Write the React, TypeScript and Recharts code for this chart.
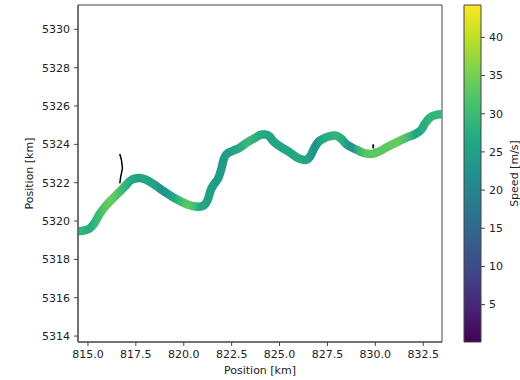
import React from 'react';
import { ComposedChart, Line, XAxis, YAxis, ReferenceArea } from 'recharts';

// Track positions [km] and speed [m/s] along the track
const trackX = [814.25, 814.77, 815.09, 815.35, 815.61, 815.88, 816.14, 816.40, 816.66, 816.92, 817.19, 817.45, 817.71, 817.97, 818.24, 818.55, 818.86, 819.18, 819.54, 819.91, 820.23, 820.54, 820.80, 821.07, 821.25, 821.41, 821.59, 821.80, 821.96, 822.09, 822.25, 822.48, 822.85, 823.38, 823.74, 824.06, 824.27, 824.48, 824.69, 824.95, 825.48, 826.00, 826.32, 826.58, 826.79, 827.00, 827.26, 827.58, 827.89, 828.21, 828.47, 828.79, 829.10, 829.47, 829.78, 830.15, 830.62, 831.14, 831.66, 832.08, 832.40, 832.61, 832.82, 833.13, 833.45, 833.82];
const trackY = [5319.45, 5319.50, 5319.61, 5319.90, 5320.37, 5320.73, 5321.02, 5321.28, 5321.54, 5321.80, 5322.09, 5322.22, 5322.25, 5322.18, 5322.04, 5321.84, 5321.62, 5321.41, 5321.18, 5320.99, 5320.85, 5320.77, 5320.74, 5320.83, 5321.10, 5321.62, 5321.93, 5322.24, 5322.71, 5323.23, 5323.50, 5323.63, 5323.79, 5324.14, 5324.34, 5324.51, 5324.52, 5324.41, 5324.15, 5323.94, 5323.62, 5323.27, 5323.18, 5323.34, 5323.76, 5324.10, 5324.28, 5324.42, 5324.46, 5324.30, 5324.02, 5323.83, 5323.68, 5323.53, 5323.50, 5323.61, 5323.86, 5324.12, 5324.36, 5324.54, 5324.77, 5325.11, 5325.37, 5325.53, 5325.57, 5325.58];
const trackSpeed = [31, 28, 27, 29, 31, 33, 34, 33, 31, 29, 27, 26, 25, 26, 26, 25, 22, 24, 27, 31, 33, 31, 27, 26, 25, 25, 24, 24, 24, 24, 25, 25, 27, 30, 28, 27, 26, 26, 26, 26, 26, 27, 26, 25, 22, 24, 27, 28, 29, 28, 25, 22, 29, 33, 33, 33, 33, 34, 31, 25, 27, 28, 29, 29, 29, 29];

// Thin black marks
const markAX = [816.66, 816.75, 816.80, 816.71, 816.66];
const markAY = [5323.50, 5323.18, 5322.75, 5322.31, 5321.97];
const markBX = [829.89, 829.89];
const markBY = [5324.00, 5323.79];

// Axes
const xTicks = [815.0, 817.5, 820.0, 822.5, 825.0, 827.5, 830.0, 832.5];
const yTicks = [5314, 5316, 5318, 5320, 5322, 5324, 5326, 5328, 5330];
const xDomain = [814.48, 833.48];
const yDomain = [5313.69, 5331.27];

// Colorbar
const speedMin = 0.1;
const speedMax = 44.24;
const cbTicks = [5, 10, 15, 20, 25, 30, 35, 40];

const VIRIDIS = ['#440154', '#482475', '#414487', '#355f8d', '#2a788e', '#21918c', '#22a884', '#44bf70', '#7ad151', '#bddf26', '#fde725'];

function hexToRgb(h: string) {
  return [parseInt(h.slice(1, 3), 16), parseInt(h.slice(3, 5), 16), parseInt(h.slice(5, 7), 16)];
}
function viridis(t: number) {
  const c = Math.max(0, Math.min(1, t));
  const s = c * (VIRIDIS.length - 1);
  const i = Math.min(VIRIDIS.length - 2, Math.floor(s));
  const f = s - i;
  const a = hexToRgb(VIRIDIS[i]);
  const b = hexToRgb(VIRIDIS[i + 1]);
  const r = a.map((v, k) => Math.round(v + (b[k] - v) * f));
  return `rgb(${r[0]},${r[1]},${r[2]})`;
}

const trackData = trackX.map((x, i) => ({ x, y: trackY[i] }));
const markAData = markAX.map((x, i) => ({ x, y: markAY[i] }));
const markBData = markBX.map((x, i) => ({ x, y: markBY[i] }));
const cbData = [{ x: 0 }, { x: 1 }];

const xMin = Math.min(...trackX);
const xMax = Math.max(...trackX);

const FONT = 'DejaVu Sans';
const TXT = '#222';
const AX = '#444';
const tickStyle = { fontSize: 11, fill: TXT, fontFamily: FONT };

export default function App() {
  return (
    <div style={{ position: 'absolute', left: 0, top: 0, width: 520, height: 380, background: '#fff' }}>
      <div style={{ position: 'absolute', left: 0, top: 0 }}>
        <ComposedChart width={520} height={380} margin={{ top: 5, right: 78, left: 0, bottom: 0 }}>
          <defs>
            <linearGradient id="speedGrad" x1="0" y1="0" x2="1" y2="0">
              {trackX.map((x, i) => (
                <stop key={i} offset={(x - xMin) / (xMax - xMin)} stopColor={viridis((trackSpeed[i] - speedMin) / (speedMax - speedMin))} />
              ))}
            </linearGradient>
          </defs>
          <XAxis
            type="number"
            dataKey="x"
            domain={xDomain}
            allowDataOverflow
            ticks={xTicks}
            tickFormatter={(v: number) => v.toFixed(1)}
            height={38}
            tickSize={4}
            tickMargin={4}
            tick={tickStyle}
            stroke={AX}
            axisLine={{ stroke: AX, strokeWidth: 1 }}
            tickLine={{ stroke: AX, strokeWidth: 1 }}
            label={{ value: 'Position [km]', position: 'insideBottom', offset: 6, style: { fontSize: 11, fill: TXT, fontFamily: FONT } }}
          />
          <YAxis
            type="number"
            dataKey="y"
            domain={yDomain}
            allowDataOverflow
            ticks={yTicks}
            width={78}
            tickSize={4}
            tickMargin={4}
            tick={tickStyle}
            stroke={AX}
            axisLine={{ stroke: AX, strokeWidth: 1 }}
            tickLine={{ stroke: AX, strokeWidth: 1 }}
            label={{ value: 'Position [km]', angle: -90, position: 'center', dx: -9.5, style: { fontSize: 11, fill: TXT, fontFamily: FONT, textAnchor: 'middle' } }}
          />
          <ReferenceArea x1={xDomain[0]} x2={xDomain[1]} y1={yDomain[0]} y2={yDomain[1]} fill="none" stroke={AX} strokeWidth={1} fillOpacity={0} />
          <Line data={markAData} dataKey="y" type="linear" stroke="#000" strokeWidth={1.5} dot={false} isAnimationActive={false} />
          <Line data={markBData} dataKey="y" type="linear" stroke="#000" strokeWidth={1.8} dot={false} isAnimationActive={false} />
          <Line
            data={trackData}
            dataKey="y"
            type="monotone"
            stroke="url(#speedGrad)"
            strokeWidth={8.5}
            strokeLinejoin="round"
            dot={false}
            activeDot={false}
            isAnimationActive={false}
          />
        </ComposedChart>
      </div>
      <div style={{ position: 'absolute', left: 440, top: 0 }}>
        <ComposedChart width={80} height={380} data={cbData} margin={{ top: 5, right: 0, left: 24, bottom: 38 }}>
          <defs>
            <linearGradient id="cbGrad" x1="0" y1="1" x2="0" y2="0">
              {VIRIDIS.map((c, i) => (
                <stop key={i} offset={i / (VIRIDIS.length - 1)} stopColor={c} />
              ))}
            </linearGradient>
          </defs>
          <XAxis type="number" dataKey="x" domain={[0, 1]} hide />
          <YAxis
            type="number"
            orientation="right"
            domain={[speedMin, speedMax]}
            allowDataOverflow
            ticks={cbTicks}
            width={39}
            tickSize={4}
            tickMargin={4}
            tick={tickStyle}
            axisLine={false}
            tickLine={{ stroke: AX, strokeWidth: 1 }}
            label={{ value: 'Speed [m/s]', angle: -90, position: 'center', dx: 14, style: { fontSize: 11, fill: TXT, fontFamily: FONT, textAnchor: 'middle' } }}
          />
          <ReferenceArea x1={0} x2={1} y1={speedMin} y2={speedMax} fill="url(#cbGrad)" fillOpacity={1} stroke={AX} strokeWidth={1} />
        </ComposedChart>
      </div>
    </div>
  );
}
